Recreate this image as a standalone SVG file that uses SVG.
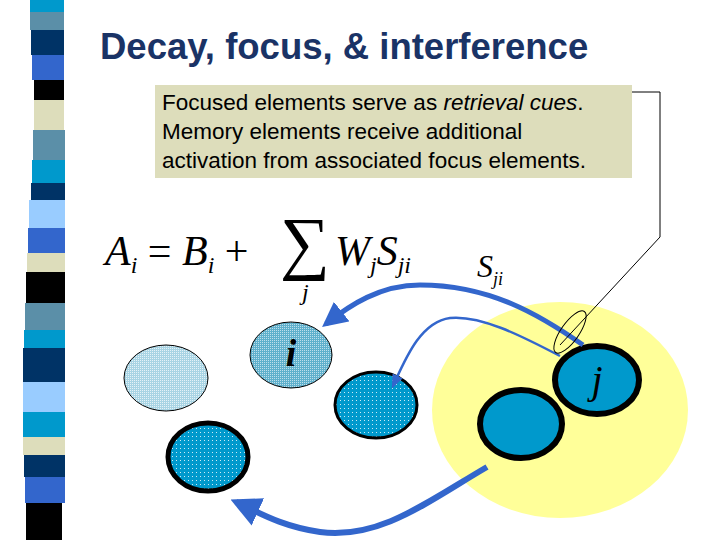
<svg xmlns="http://www.w3.org/2000/svg" width="720" height="540" viewBox="0 0 720 540">
<defs>
<style>
.m{font-family:"Liberation Serif",serif;font-style:italic;fill:#000}
.c{font-family:"Liberation Sans",Arial,sans-serif;font-size:22.5px;fill:#000}
</style>
<marker id="ah" viewBox="0 0 10 10" refX="8" refY="5" markerWidth="5" markerHeight="5" orient="auto" markerUnits="strokeWidth"><path d="M0,0L10,5L0,10z" fill="#3366cc"/></marker>
<marker id="ah2" viewBox="0 0 10 10" refX="8" refY="5" markerWidth="14" markerHeight="14" orient="auto" markerUnits="userSpaceOnUse"><path d="M0,1L10,5L0,9z" fill="#3366cc"/></marker>
<pattern id="dots" width="4" height="4" patternUnits="userSpaceOnUse"><rect width="4" height="4" fill="#0099cc"/><rect width="1" height="1" fill="#ffffff" opacity="0.8"/></pattern>
<pattern id="dots2" width="2" height="2" patternUnits="userSpaceOnUse"><rect width="2" height="2" fill="#5fb0cc"/><rect width="1" height="1" fill="#ffffff" opacity="0.6"/></pattern>
<pattern id="dots3" width="2" height="2" patternUnits="userSpaceOnUse"><rect width="2" height="2" fill="#a8d4e4"/><rect width="1" height="1" fill="#ffffff" opacity="0.7"/></pattern>
</defs>
<rect width="720" height="540" fill="#fff"/>
<g id="stripe">
<rect x="30" y="0" width="34" height="12" fill="#0099cc"/>
<rect x="30" y="12" width="34" height="18" fill="#5b8fa8"/>
<rect x="31" y="30" width="33" height="25" fill="#003366"/>
<rect x="32" y="55" width="32" height="25" fill="#3366cc"/>
<rect x="34" y="80" width="30" height="20" fill="#000"/>
<rect x="34" y="100" width="30" height="30" fill="#ddddbb"/>
<rect x="33" y="130" width="32" height="30" fill="#5b8fa8"/>
<rect x="32" y="160" width="33" height="23" fill="#0099cc"/>
<rect x="31" y="183" width="34" height="17" fill="#003366"/>
<rect x="29" y="200" width="36" height="28" fill="#99ccff"/>
<rect x="28" y="228" width="37" height="25" fill="#3366cc"/>
<rect x="27" y="253" width="38" height="19" fill="#ddddbb"/>
<rect x="26" y="272" width="39" height="31" fill="#000"/>
<rect x="25" y="303" width="40" height="27" fill="#5b8fa8"/>
<rect x="24" y="330" width="41" height="18" fill="#0099cc"/>
<rect x="23" y="348" width="42" height="34" fill="#003366"/>
<rect x="23" y="382" width="42" height="30" fill="#99ccff"/>
<rect x="23" y="412" width="42" height="25" fill="#0099cc"/>
<rect x="23" y="437" width="42" height="18" fill="#ddddbb"/>
<rect x="24" y="455" width="41" height="22" fill="#003366"/>
<rect x="25" y="477" width="40" height="26" fill="#3366cc"/>
<rect x="26" y="503" width="36" height="37" fill="#000"/>
</g>
<text x="100" y="59" font-family="Liberation Sans,Arial,sans-serif" font-weight="bold" font-size="36.5" fill="#1a3366">Decay, focus, &amp; interference</text>
<g id="callout">
<rect x="155" y="85" width="477" height="93" fill="#ddddbb"/>
<text class="c" x="162" y="110">Focused elements serve as <tspan font-style="italic">retrieval cues</tspan>.</text>
<text class="c" x="162" y="139">Memory elements receive additional</text>
<text class="c" x="162" y="168">activation from associated focus elements.</text>
</g>
<g id="formula">
<text class="m" x="105" y="265" font-size="42">A<tspan font-size="24" dy="8">i</tspan><tspan font-style="normal" dy="-8"> = </tspan>B<tspan font-size="24" dy="8">i</tspan><tspan font-style="normal" dy="-8"> + </tspan></text>
<text x="280" y="266" font-family="Liberation Serif,serif" font-size="70">∑</text>
<text class="m" x="302" y="300" font-size="24">j</text>
<text class="m" x="335" y="265" font-size="42">W<tspan font-size="24" dy="8">j</tspan><tspan dy="-8">S</tspan><tspan font-size="24" dy="8">ji</tspan></text>
<text class="m" x="477" y="277" font-size="32">S<tspan font-size="18" dy="8">ji</tspan></text>
</g>
<ellipse id="focus" cx="560" cy="410" rx="128" ry="108" fill="#ffff99"/>
<g id="n1"><ellipse cx="166" cy="378" rx="42" ry="33" fill="url(#dots3)" stroke="#000" stroke-width="1"/></g>
<g id="ni"><ellipse cx="291" cy="355" rx="41" ry="33" fill="url(#dots2)" stroke="#000" stroke-width="1"/><text class="m" x="291" y="366" font-size="38" font-weight="bold" text-anchor="middle">i</text></g>
<g id="n3"><ellipse cx="376" cy="405" rx="41" ry="33" fill="url(#dots)" stroke="#000" stroke-width="3"/></g>
<g id="n4"><ellipse cx="208" cy="457" rx="40" ry="34" fill="url(#dots)" stroke="#000" stroke-width="5"/></g>
<g id="nj"><ellipse cx="597" cy="380" rx="42" ry="34" fill="#0099cc" stroke="#000" stroke-width="6"/><text class="m" x="597" y="393" font-size="40" text-anchor="middle">j</text></g>
<g id="n6"><ellipse cx="521" cy="424" rx="41" ry="34" fill="#0099cc" stroke="#000" stroke-width="6"/></g>
<g id="connectors" fill="none">
<path d="M583,345 C540,315 490,285 420,285 C380,285 350,305 326,324" stroke="#3366cc" stroke-width="5" marker-end="url(#ah)"/>
<path d="M560,356 C520,335 480,315 450,318 C420,322 405,360 393,386" stroke="#3366cc" stroke-width="2.5" marker-end="url(#ah2)"/>
<path d="M487,467 C430,500 380,540 320,532 C280,526 258,512 236,502" stroke="#3366cc" stroke-width="6" marker-end="url(#ah)"/>
<path d="M632,92 H660 V237 L560,345" stroke="#000" stroke-width="1"/>
<ellipse cx="570" cy="332" rx="9" ry="25" transform="rotate(35 570 332)" stroke="#000" stroke-width="1"/>
</g>
</svg>
